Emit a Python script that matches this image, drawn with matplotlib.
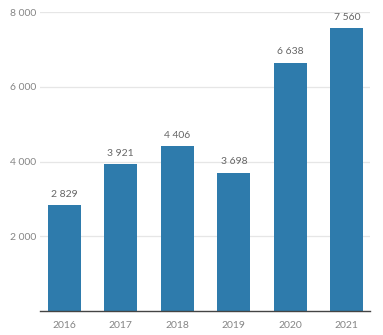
import matplotlib
matplotlib.use('Agg')
import matplotlib.pyplot as plt

years = ['2016', '2017', '2018', '2019', '2020', '2021']
values = [2829, 3921, 4406, 3698, 6638, 7560]
yticks = [2000, 4000, 6000, 8000]

plt.rcParams['font.family'] = ['Lato', 'DejaVu Sans']

fig = plt.figure(figsize=(3.83, 3.35), dpi=100)
ax = fig.add_axes([40 / 383, 24 / 335, 330 / 383, 299 / 335])

x = range(len(years))
ax.bar(x, values, width=0.58, color='#2e7bac', zorder=2)

# value labels above each bar, thin-space style thousands separator
for xi, v in zip(x, values):
    ax.text(xi, v + 180, f'{v:,}'.replace(',', ' '), ha='center', va='bottom',
            fontsize=7.5, color='#666666', clip_on=False)

ax.set_xlim(-0.43, 5.41)
ax.set_ylim(0, 8000)
ax.set_yticks(yticks)
ax.set_yticklabels([f'{t:,}'.replace(',', ' ') for t in yticks])
ax.set_xticks(list(x))
ax.set_xticklabels(years)
ax.yaxis.grid(True, color='#e6e6e6', linewidth=0.9, zorder=0)
ax.set_axisbelow(True)

for s in ['top', 'right', 'left']:
    ax.spines[s].set_visible(False)
ax.spines['bottom'].set_color('#444444')
ax.spines['bottom'].set_linewidth(1.0)
ax.tick_params(axis='both', length=0, labelsize=7.5, labelcolor='#858585')
ax.tick_params(axis='y', pad=3)
ax.tick_params(axis='x', pad=7)

plt.savefig('out.png', dpi=100)
